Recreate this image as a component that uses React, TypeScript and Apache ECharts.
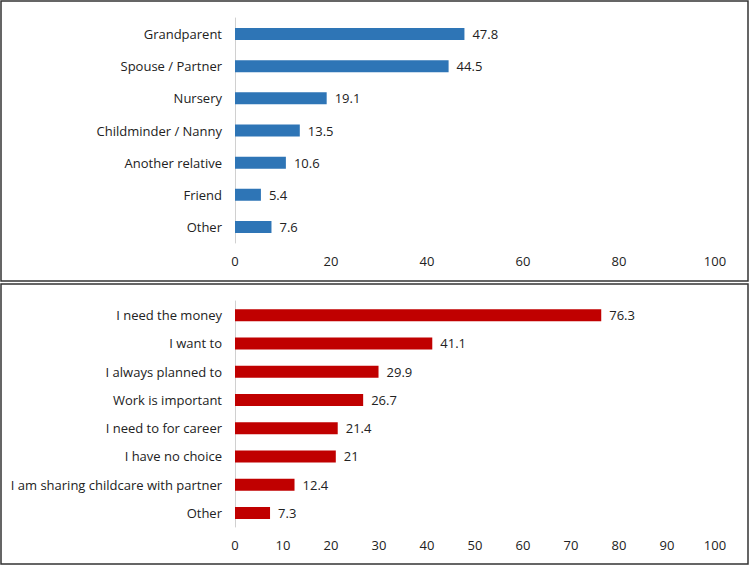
import React, { useEffect, useRef } from "react";
import * as echarts from "echarts";

const careCategories = ["Grandparent", "Spouse / Partner", "Nursery", "Childminder / Nanny", "Another relative", "Friend", "Other"];
const careValues = [47.8, 44.5, 19.1, 13.5, 10.6, 5.4, 7.6];

const reasonCategories = ["I need the money", "I want to", "I always planned to", "Work is important", "I need to for career", "I have no choice", "I am sharing childcare with partner", "Other"];
const reasonValues = [76.3, 41.1, 29.9, 26.7, 21.4, 21, 12.4, 7.3];

const FONT = "'Open Sans', Lato, sans-serif";
const TEXT = "#222";
const FS = 13;

export default function App() {
  const ref = useRef<HTMLDivElement>(null);
  useEffect(() => {
    document.body.style.margin = "0";
    if (!ref.current) return;
    const chart = echarts.init(ref.current, null, { renderer: "svg" });
    const catAxis = (idx: number, data: string[]) => ({
      type: "category",
      gridIndex: idx,
      data: data.slice().reverse(),
      axisLine: { show: true, lineStyle: { color: "#d0d0d0", width: 1 } },
      axisTick: { show: false },
      axisLabel: { color: TEXT, fontSize: FS, fontFamily: FONT, margin: 13 },
    });
    const valAxis = (idx: number, interval: number) => ({
      type: "value",
      gridIndex: idx,
      min: 0,
      max: 100,
      interval,
      axisLine: { show: false },
      axisTick: { show: false },
      splitLine: { show: false },
      axisLabel: { color: TEXT, fontSize: FS, fontFamily: FONT, margin: 11 },
    });
    const labelCfg = { show: true, position: "right", distance: 8, color: TEXT, fontSize: FS, fontFamily: FONT };
    chart.setOption({
      animation: false,
      grid: [
        { left: 235, right: 35, top: 18, height: 225 },
        { left: 235, right: 35, top: 301, height: 226 },
      ],
      yAxis: [catAxis(0, careCategories), catAxis(1, reasonCategories)],
      xAxis: [valAxis(0, 20), valAxis(1, 10)],
      series: [
        {
          type: "bar",
          xAxisIndex: 0,
          yAxisIndex: 0,
          data: careValues.slice().reverse(),
          barWidth: 12,
          itemStyle: { color: "#2e75b6" },
          label: labelCfg,
        },
        {
          type: "bar",
          xAxisIndex: 1,
          yAxisIndex: 1,
          data: reasonValues.slice().reverse(),
          barWidth: 12,
          itemStyle: { color: "#c00000" },
          label: labelCfg,
        },
      ],
      graphic: [
        { type: "rect", shape: { x: 1, y: 1, width: 747, height: 280 }, style: { fill: "none", stroke: "#333", lineWidth: 1.5 } },
        { type: "rect", shape: { x: 1, y: 284, width: 747, height: 280 }, style: { fill: "none", stroke: "#333", lineWidth: 1.5 } },
      ],
    });
    return () => chart.dispose();
  }, []);
  return <div ref={ref} style={{ width: 750, height: 566, background: "#fff" }} />;
}
